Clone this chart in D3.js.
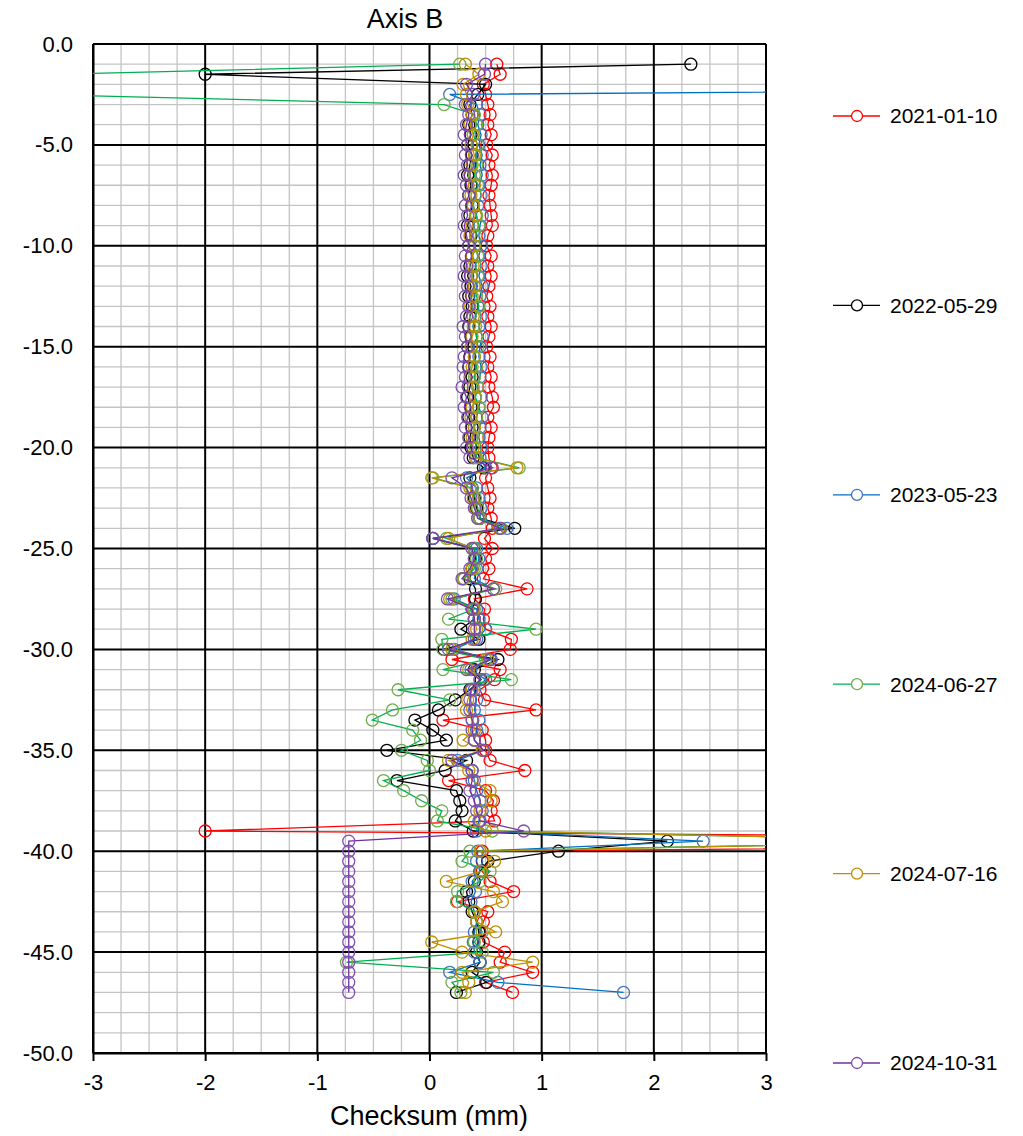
<!DOCTYPE html>
<html><head><meta charset="utf-8">
<script src="https://cdn.jsdelivr.net/npm/d3@7"></script>
<style>body{margin:0;background:#fff} text{font-family:"Liberation Sans",Arial,sans-serif;fill:#000}</style>
</head><body><svg id="c" width="1023" height="1136"></svg>
<script>
const depths = [-1.0,-1.5,-2.0,-2.5,-3.0,-3.5,-4.0,-4.5,-5.0,-5.5,
 -6.0,-6.5,-7.0,-7.5,-8.0,-8.5,-9.0,-9.5,-10.0,-10.5,
 -11.0,-11.5,-12.0,-12.5,-13.0,-13.5,-14.0,-14.5,-15.0,-15.5,
 -16.0,-16.5,-17.0,-17.5,-18.0,-18.5,-19.0,-19.5,-20.0,-20.5,
 -21.0,-21.5,-22.0,-22.5,-23.0,-23.5,-24.0,-24.5,-25.0,-25.5,
 -26.0,-26.5,-27.0,-27.5,-28.0,-28.5,-29.0,-29.5,-30.0,-30.5,
 -31.0,-31.5,-32.0,-32.5,-33.0,-33.5,-34.0,-34.5,-35.0,-35.5,
 -36.0,-36.5,-37.0,-37.5,-38.0,-38.5,-39.0,-39.5,-40.0,-40.5,
 -41.0,-41.5,-42.0,-42.5,-43.0,-43.5,-44.0,-44.5,-45.0,-45.5,
 -46.0,-46.5,-47.0];

const seriesNames = ["2021-01-10","2022-05-29","2023-05-23","2024-06-27","2024-07-16","2024-10-31"];
const lineColors = ["#FF0000","#000000","#0070C0","#00B050","#BF9000","#7030A0"];
const markerColors = ["#FF0000","#000000","#4472C4","#70AD47","#BF9000","#7F4FB0"];

const s2021_01_10 = [0.60,0.63,0.48,0.50,0.52,0.54,0.52,0.55,0.51,0.56,
 0.53,0.56,0.55,0.53,0.54,0.55,0.56,0.52,0.51,0.55,
 0.52,0.55,0.53,0.51,0.54,0.52,0.55,0.53,0.51,0.54,
 0.52,0.55,0.53,0.56,0.57,0.52,0.55,0.53,0.52,0.53,
 0.55,0.50,0.52,0.54,0.52,0.55,0.56,0.49,0.56,0.50,
 0.53,0.48,0.87,0.40,0.49,0.48,0.50,0.73,0.72,0.20,
 0.63,0.58,0.45,0.49,0.95,0.12,0.47,0.50,0.50,0.54,
 0.85,0.17,0.50,0.57,0.55,0.58,-2.00,11.0,0.47,0.47,
 0.47,0.54,0.75,0.25,0.52,0.48,0.45,0.48,0.67,0.63,
 0.92,0.50,0.74];
const s2022_05_29 = [2.33,-2.00,0.50,0.43,0.36,0.38,0.35,0.37,0.34,0.38,
 0.36,0.34,0.37,0.35,0.38,0.36,0.34,0.37,0.35,0.38,
 0.36,0.34,0.37,0.35,0.38,0.36,0.35,0.37,0.34,0.36,
 0.35,0.38,0.36,0.34,0.37,0.35,0.38,0.36,0.37,0.39,
 0.48,0.36,0.38,0.40,0.42,0.45,0.76,0.03,0.40,0.41,
 0.38,0.36,0.41,0.41,0.38,0.40,0.28,0.44,0.13,0.61,
 0.40,0.46,0.36,0.23,0.08,-0.13,0.03,0.15,-0.38,0.33,
 0.14,-0.29,0.24,0.27,0.29,0.23,0.39,2.12,1.15,0.52,
 0.45,0.40,0.33,0.35,0.38,0.42,0.44,0.44,0.42,0.45,
 0.38,0.51,0.24];
const s2023_05_23 = [null,null,12.0,0.18,0.42,0.45,0.43,0.46,0.44,0.47,
 0.45,0.47,0.44,0.46,0.43,0.47,0.45,0.44,0.46,0.44,
 0.46,0.44,0.47,0.45,0.43,0.46,0.44,0.47,0.45,0.44,
 0.46,0.45,0.43,0.46,0.44,0.47,0.45,0.44,0.46,0.45,
 0.50,0.33,0.42,0.44,0.46,0.45,0.69,0.03,0.42,0.44,
 0.42,0.40,0.57,0.22,0.42,0.44,0.50,0.42,0.22,0.55,
 0.37,0.50,0.40,0.42,0.40,0.44,0.42,0.40,0.48,0.25,
 0.38,0.40,0.42,0.45,0.47,0.44,0.42,2.44,0.43,0.42,
 0.45,0.38,0.41,0.37,0.40,0.42,0.40,0.39,0.40,0.45,
 0.18,0.61,1.73];
const s2024_06_27 = [0.27,-3.3,-3.4,-3.5,0.13,0.40,0.42,0.39,0.43,0.41,
 0.42,0.40,0.43,0.41,0.39,0.42,0.44,0.41,0.40,0.43,
 0.41,0.43,0.40,0.42,0.44,0.41,0.39,0.42,0.43,0.40,
 0.42,0.40,0.43,0.41,0.44,0.42,0.40,0.43,0.41,0.42,
 0.80,0.03,0.38,0.41,0.43,0.45,0.64,0.15,0.40,0.42,
 0.40,0.31,0.59,0.20,0.40,0.17,0.95,0.11,0.12,0.50,
 0.12,0.73,-0.28,0.18,-0.33,-0.51,-0.15,-0.08,-0.25,-0.02,
 0.00,-0.41,-0.23,-0.07,0.11,0.07,0.56,5.0,0.36,0.29,
 0.54,0.45,0.25,0.24,0.40,0.42,0.47,0.40,0.47,-0.74,
 0.57,0.20,0.28];
const s2024_07_16 = [0.32,0.44,0.30,0.33,0.34,0.38,0.36,0.39,0.37,0.40,
 0.38,0.36,0.40,0.37,0.39,0.41,0.38,0.36,0.40,0.38,
 0.39,0.37,0.40,0.38,0.36,0.39,0.41,0.38,0.37,0.40,
 0.38,0.36,0.39,0.41,0.38,0.37,0.40,0.38,0.39,0.41,
 0.78,0.02,0.36,0.39,0.41,0.43,0.62,0.17,0.38,0.40,
 0.38,0.30,0.57,0.18,0.39,0.40,0.42,0.38,0.20,0.52,
 0.35,0.45,0.38,0.34,0.33,0.38,0.40,0.30,0.47,0.17,
 0.35,0.38,0.54,0.55,0.45,0.40,0.50,5.0,0.45,0.58,
 0.46,0.15,0.57,0.65,0.40,0.42,0.59,0.02,0.29,0.92,
 0.29,0.35,0.32];
const s2024_10_31 = [0.50,0.49,0.33,0.39,0.32,0.35,0.33,0.31,0.34,0.32,
 0.34,0.31,0.33,0.35,0.32,0.34,0.31,0.33,0.35,0.32,
 0.33,0.31,0.34,0.32,0.35,0.33,0.30,0.32,0.34,0.31,
 0.30,0.32,0.29,0.33,0.31,0.34,0.32,0.35,0.33,0.36,
 0.56,0.20,0.33,0.37,0.40,0.43,0.63,0.03,0.38,0.40,
 0.36,0.29,0.57,0.16,0.38,0.40,0.40,0.40,0.17,0.54,
 0.33,0.45,0.37,0.36,0.36,0.38,0.38,0.40,0.48,0.20,
 0.38,0.38,0.36,0.40,0.42,0.45,0.84,-0.72,-0.72,-0.72,
 -0.72,-0.72,-0.72,-0.72,-0.72,-0.72,-0.72,-0.72,-0.72,-0.72,
 -0.72,-0.72,-0.72];
const seriesValues = [s2021_01_10,s2022_05_29,s2023_05_23,s2024_06_27,s2024_07_16,s2024_10_31];

const xTicks = [-3,-2,-1,0,1,2,3];
const yTicks = [0,-5,-10,-15,-20,-25,-30,-35,-40,-45,-50];
const titleText = "Axis B";
const xLabel = "Checksum (mm)";

const L = 93, R = 766, T = 44, B = 1053;
const svg = d3.select("#c");
const x = d3.scaleLinear().domain([-3,3]).range([L,R]);
const y = d3.scaleLinear().domain([0,-50]).range([T,B]);

// minor grid
const g = svg.append("g");
g.selectAll("line.mx").data(d3.range(-3,3.0001,0.25).filter(v=>Math.abs(v-Math.round(v))>1e-6)).enter()
 .append("line").attr("x1",d=>x(d)).attr("x2",d=>x(d)).attr("y1",T).attr("y2",B)
 .attr("stroke","#c4c4c4").attr("stroke-width",1.3);
g.selectAll("line.my").data(d3.range(0,-50.0001,-1).filter(v=>v%5!==0)).enter()
 .append("line").attr("x1",L).attr("x2",R).attr("y1",d=>y(d)).attr("y2",d=>y(d))
 .attr("stroke","#c4c4c4").attr("stroke-width",1.3);
// major grid
g.selectAll("line.Mx").data(xTicks).enter()
 .append("line").attr("x1",d=>x(d)).attr("x2",d=>x(d)).attr("y1",T).attr("y2",B)
 .attr("stroke","#000").attr("stroke-width",2);
g.selectAll("line.My").data(yTicks).enter()
 .append("line").attr("x1",L).attr("x2",R).attr("y1",d=>y(d)).attr("y2",d=>y(d))
 .attr("stroke","#000").attr("stroke-width",2);

// axes
const xa = svg.append("g").attr("transform",`translate(0,${B})`)
 .call(d3.axisBottom(x).tickValues(xTicks).tickFormat(d=>String(d)).tickSize(8).tickPadding(13).tickSizeOuter(0));
xa.select(".domain").attr("stroke","#000").attr("stroke-width",2);
xa.selectAll(".tick line").attr("stroke","#000").attr("stroke-width",2);
xa.selectAll("text").attr("font-size",22).attr("font-family","Liberation Sans, Arial, sans-serif");
const ya = svg.append("g").attr("transform",`translate(${L},0)`)
 .call(d3.axisLeft(y).tickValues(yTicks).tickFormat(d=>d.toFixed(1)).tickSize(0).tickPadding(20).tickSizeOuter(0));
ya.select(".domain").attr("stroke","#000").attr("stroke-width",2);
ya.selectAll("text").attr("font-size",22).attr("font-family","Liberation Sans, Arial, sans-serif");

svg.append("text").attr("x",405).attr("y",28).attr("text-anchor","middle").attr("font-size",27).text(titleText);
svg.append("text").attr("x",429).attr("y",1125).attr("text-anchor","middle").attr("font-size",27).text(xLabel);

// clip
svg.append("clipPath").attr("id","pc").append("rect").attr("x",L).attr("y",T).attr("width",R-L).attr("height",B-T);
const plot = svg.append("g").attr("clip-path","url(#pc)");
const line = d3.line().defined(d=>d.v!=null).x(d=>x(d.v)).y(d=>y(d.d));

seriesValues.forEach((vals,i)=>{
  const pts = vals.map((v,j)=>({v:v,d:depths[j]}));
  const sg = plot.append("g");
  sg.append("path").datum(pts).attr("d",line).attr("fill","none")
    .attr("stroke",lineColors[i]).attr("stroke-width",1.3);
  sg.selectAll("circle").data(pts.filter(p=>p.v!=null)).enter().append("circle")
    .attr("cx",p=>x(p.v)).attr("cy",p=>y(p.d)).attr("r",6)
    .attr("fill","none").attr("stroke",markerColors[i]).attr("stroke-width",1.3);
});

// legend
const legY = d3.scalePoint().domain(seriesNames).range([116,1063]);
const lg = svg.append("g");
seriesNames.forEach((n,i)=>{
  const yy = legY(n);
  lg.append("line").attr("x1",833).attr("x2",880).attr("y1",yy).attr("y2",yy)
    .attr("stroke",lineColors[i]).attr("stroke-width",1.3);
  lg.append("circle").attr("cx",857).attr("cy",yy).attr("r",5.5).attr("fill","#fff")
    .attr("stroke",markerColors[i]).attr("stroke-width",1.3);
  lg.append("text").attr("x",890).attr("y",yy).attr("dy","0.35em").attr("font-size",21).text(n);
});
</script></body></html>
